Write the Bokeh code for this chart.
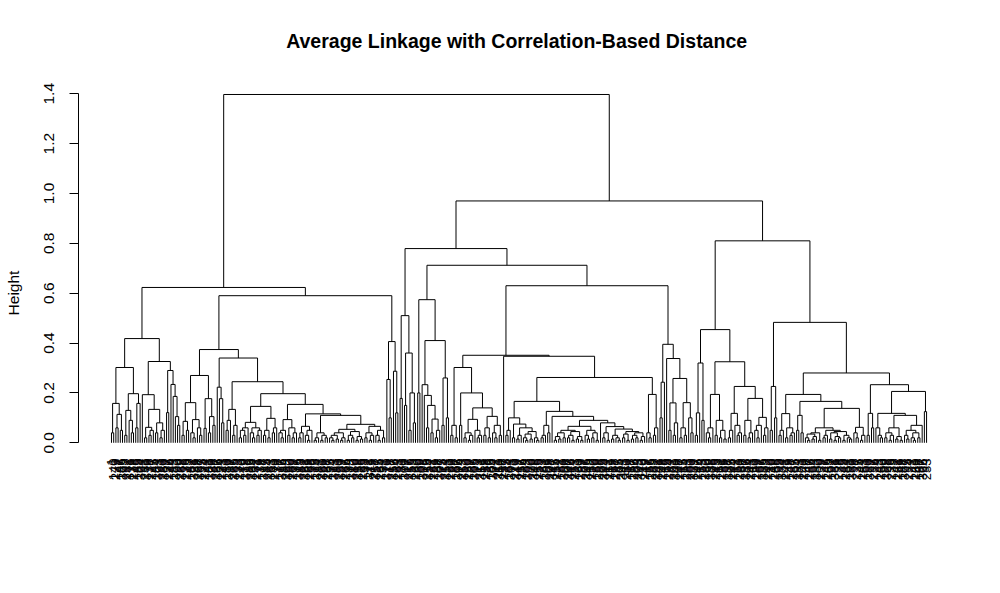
import math
from bokeh.plotting import figure
from bokeh.models import ColumnDataSource, Range1d, FixedTicker
from bokeh.core.properties import value
from bokeh.embed import file_html
from bokeh.resources import INLINE

# merge height between each pair of neighbouring leaves, read left to right
gaps_left_a = [
    0.04, 0.158, 0.06, 0.114, 0.05, 0.302, 0.03, 0.13, 0.09, 0.04,
    0.197, 0.06, 0.158, 0.418, 0.193, 0.02, 0.062, 0.03, 0.05, 0.134,
    0.04, 0.08, 0.02, 0.05, 0.326, 0.121, 0.29, 0.234, 0.186, 0.105,
    0.07]
join_left = 0.623
gaps_left_b = [
    0.03, 0.086, 0.05, 0.161, 0.04, 0.02, 0.093, 0.06, 0.03, 0.27,
    0.058, 0.177, 0.04, 0.105, 0.07, 0.374, 0.223, 0.177, 0.08, 0.34,
    0.05, 0.09, 0.134, 0.03, 0.07, 0.245, 0.02, 0.05, 0.03, 0.06,
    0.082, 0.04, 0.02, 0.06, 0.03, 0.05, 0.146, 0.03, 0.05, 0.02,
    0.098, 0.04, 0.06, 0.197, 0.04, 0.02, 0.05, 0.093, 0.03, 0.06,
    0.02, 0.04, 0.154, 0.02, 0.04, 0.066, 0.03, 0.01, 0.05, 0.116,
    0.01, 0.02, 0.04, 0.01, 0.03, 0.02, 0.11, 0.02, 0.01, 0.03,
    0.015, 0.04, 0.01, 0.02, 0.054, 0.01, 0.03, 0.02, 0.045, 0.01,
    0.025, 0.015, 0.074, 0.02, 0.04, 0.01, 0.03, 0.066, 0.03, 0.01,
    0.05, 0.02, 0.59, 0.254, 0.1, 0.406, 0.287, 0.12]
join_root = 1.397
gaps_right_a = [
    0.178, 0.51, 0.15, 0.36, 0.05, 0.2, 0.08, 0.779, 0.2, 0.574,
    0.233, 0.19, 0.06, 0.15, 0.04, 0.095, 0.02, 0.05, 0.41, 0.07,
    0.26, 0.1, 0.712, 0.03, 0.07, 0.02, 0.302, 0.07, 0.2, 0.02,
    0.04, 0.01, 0.03, 0.094, 0.05, 0.02, 0.03, 0.14, 0.03, 0.06,
    0.02, 0.106, 0.04, 0.02, 0.07, 0.03, 0.351, 0.347, 0.03, 0.05,
    0.10, 0.02, 0.075, 0.015, 0.03, 0.06, 0.02, 0.01, 0.035, 0.015,
    0.045, 0.02, 0.01, 0.166, 0.02, 0.03, 0.07, 0.04, 0.126, 0.106,
    0.01, 0.025, 0.015, 0.04, 0.02, 0.05, 0.02, 0.03, 0.01, 0.045,
    0.015, 0.025, 0.01, 0.066, 0.03, 0.015, 0.05, 0.02, 0.04, 0.01,
    0.09, 0.08, 0.02, 0.04, 0.01, 0.065, 0.015, 0.03, 0.02, 0.01,
    0.055, 0.02, 0.035, 0.01, 0.045, 0.015, 0.03, 0.02, 0.04, 0.01,
    0.025, 0.262, 0.04, 0.02, 0.194, 0.03, 0.06, 0.63, 0.1, 0.243,
    0.395, 0.338, 0.05, 0.16, 0.03, 0.08, 0.258, 0.02, 0.06, 0.03,
    0.161, 0.1, 0.04]
join_right = 0.97
gaps_right_b = [
    0.03, 0.12, 0.32, 0.09, 0.454, 0.04, 0.02, 0.06, 0.194, 0.03,
    0.09, 0.02, 0.05, 0.015, 0.325, 0.02, 0.05, 0.118, 0.07, 0.03,
    0.04, 0.226, 0.03, 0.09, 0.02, 0.04, 0.178, 0.05, 0.02, 0.07,
    0.102, 0.03, 0.06, 0.81, 0.05, 0.226, 0.1, 0.483, 0.03, 0.05,
    0.117, 0.02, 0.06, 0.03, 0.04, 0.194, 0.05, 0.11, 0.04, 0.166,
    0.02, 0.01, 0.035, 0.015, 0.025, 0.04, 0.01, 0.06, 0.02, 0.03,
    0.05, 0.015, 0.04, 0.01, 0.025, 0.02, 0.045, 0.01, 0.03, 0.02,
    0.015, 0.138, 0.04, 0.02, 0.062, 0.01, 0.03, 0.28, 0.03, 0.118,
    0.06, 0.233, 0.06, 0.03, 0.02, 0.118, 0.02, 0.04, 0.01, 0.03,
    0.06, 0.015, 0.025, 0.01, 0.11, 0.03, 0.015, 0.05, 0.02, 0.01,
    0.04, 0.02, 0.07, 0.206, 0.125]

y_ticks = [0.0, 0.2, 0.4, 0.6, 0.8, 1.0, 1.2, 1.4]
y_tick_labels = ["0.0", "0.2", "0.4", "0.6", "0.8", "1.0", "1.2", "1.4"]
title = "Average Linkage with Correlation-Based Distance"

gaps = (gaps_left_a + [join_left] + gaps_left_b + [join_root]
        + gaps_right_a + [join_right] + gaps_right_b)
n_leaves = len(gaps) + 1
# observation numbers in leaf order (unreadable in the original, kept as a permutation)
leaf_labels = [str((i * 139) % n_leaves + 1) for i in range(n_leaves)]

seg = dict(x0=[], y0=[], x1=[], y1=[])


def build(lo, hi):
    # split the leaf range at its highest neighbour gap, like hclust merges
    if lo == hi:
        return lo + 1, 0.0
    k = max(range(lo, hi), key=lambda j: gaps[j])
    xl, yl = build(lo, k)
    xr, yr = build(k + 1, hi)
    h = gaps[k]
    for a, b, c, d in ((xl, yl, xl, h), (xr, yr, xr, h), (xl, h, xr, h)):
        seg["x0"].append(a)
        seg["y0"].append(b)
        seg["x1"].append(c)
        seg["y1"].append(d)
    return (xl + xr) / 2.0, h


build(0, n_leaves - 1)

FONT = "Liberation Sans"

# frame covers the whole page height so the title can sit in data space
p = figure(width=992, height=585, output_backend="svg", toolbar_location=None,
           x_range=Range1d(-13.98, 386.4), y_range=Range1d(-0.5724, 1.774),
           x_axis_location=None, min_border_left=78, min_border_right=32,
           min_border_top=0, min_border_bottom=0)
p.grid.visible = False
p.outline_line_color = None
p.background_fill_color = "white"
p.border_fill_color = "white"

ax = p.yaxis[0]
ax.ticker = FixedTicker(ticks=y_ticks)
ax.major_label_overrides = {t: s for t, s in zip(y_ticks, y_tick_labels)}
ax.bounds = (0, 1.4)
ax.major_label_orientation = "vertical"
ax.major_tick_out = 9
ax.major_tick_in = 0
ax.minor_tick_out = 0
ax.minor_tick_in = 0
ax.axis_line_color = "black"
ax.major_tick_line_color = "black"
ax.major_label_text_color = "black"
ax.major_label_text_font = FONT
ax.major_label_text_font_size = "15.5px"
ax.major_label_standoff = 15
ax.axis_label = "Height"
ax.axis_label_text_font = FONT
ax.axis_label_text_font_size = "15.5px"
ax.axis_label_text_font_style = "normal"
ax.axis_label_text_color = "black"
ax.axis_label_standoff = 20

p.segment(x0="x0", y0="y0", x1="x1", y1="y1", source=ColumnDataSource(seg),
          line_color="black", line_width=1)

p.text(x=list(range(1, n_leaves + 1)), y=[-0.063] * n_leaves, text=leaf_labels,
       angle=math.pi / 2, text_align="right", text_baseline="middle",
       text_font=value(FONT), text_font_size=value("13px"), text_color="black")

p.text(x=[184.9], y=[1.61], text=[title], text_align="center",
       text_baseline="middle", text_font=value(FONT),
       text_font_size=value("19.5px"), text_font_style="bold", text_color="black")

open("out.html", "w").write(file_html(p, INLINE))
